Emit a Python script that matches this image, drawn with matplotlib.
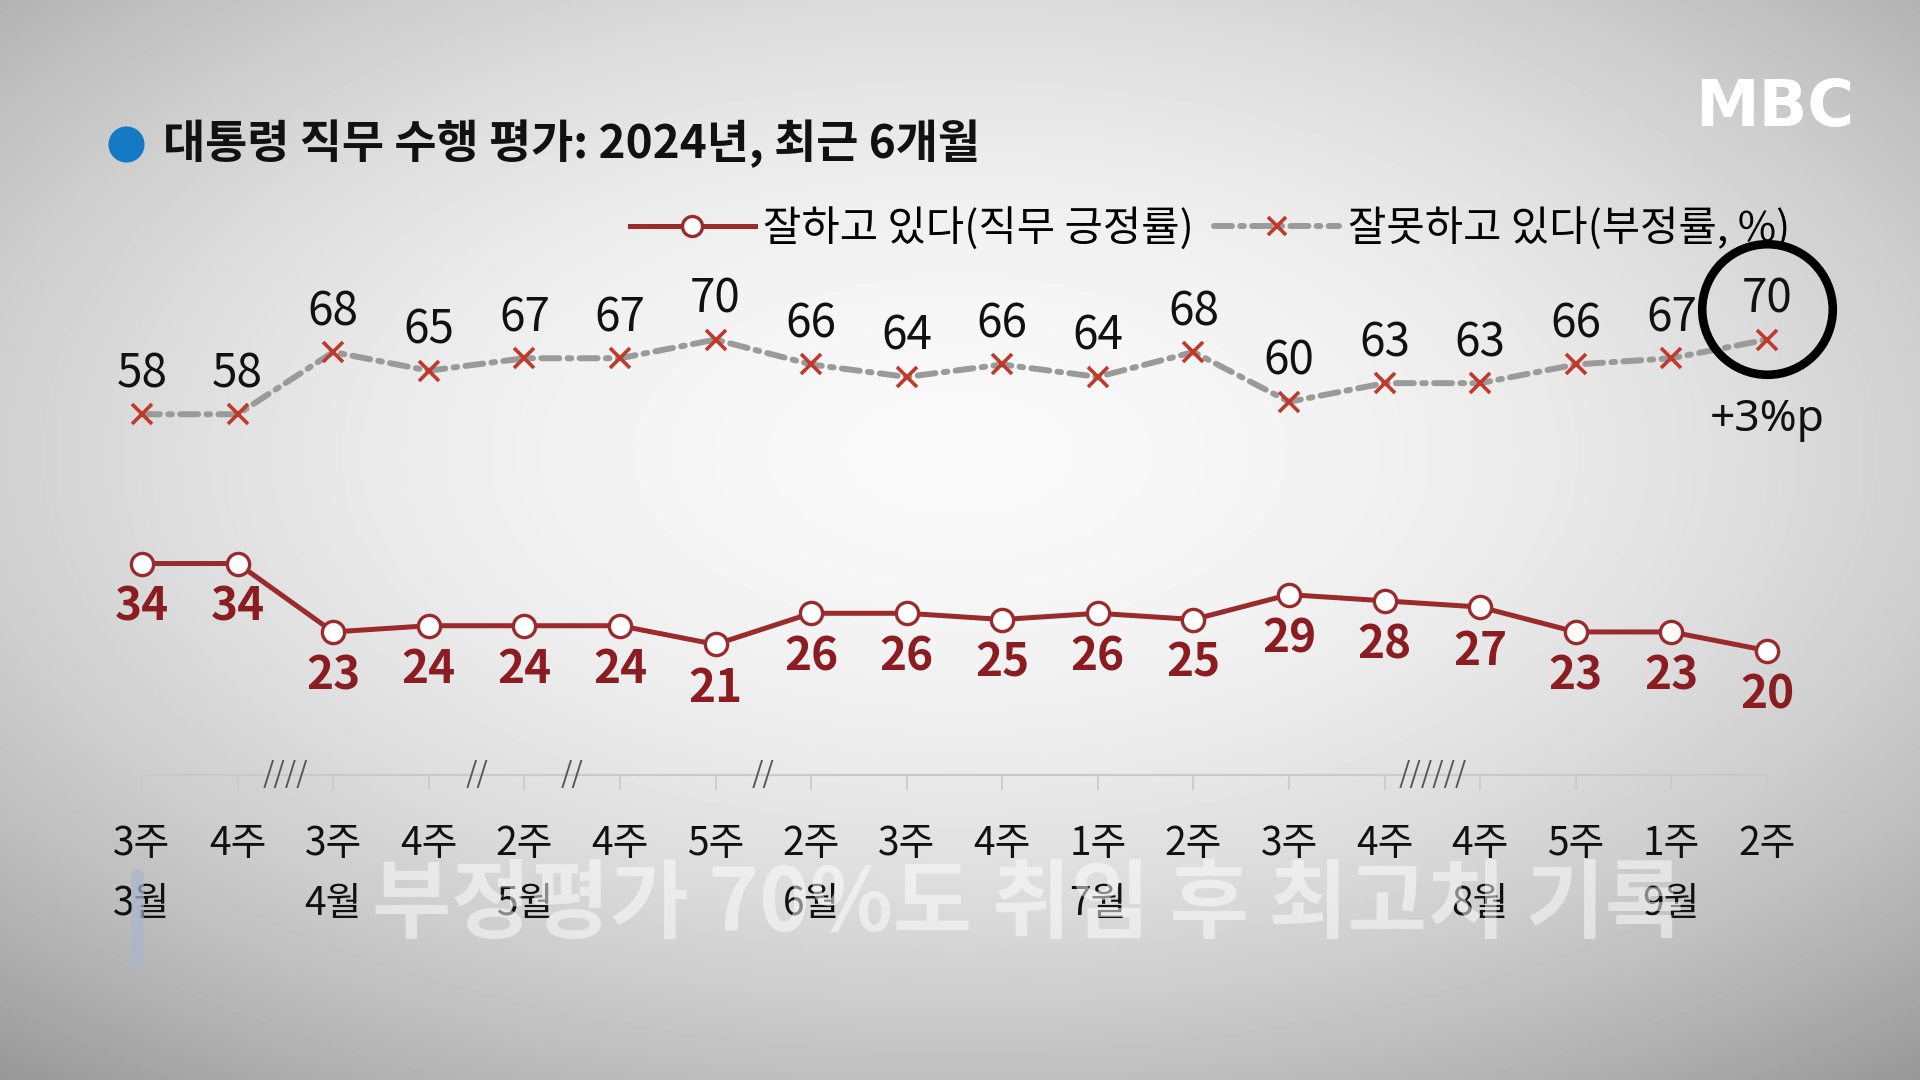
import numpy as np
import matplotlib
matplotlib.use("Agg")
import matplotlib.pyplot as plt
from matplotlib import font_manager
from matplotlib.lines import Line2D

# data
weeks = ["3주", "4주", "3주", "4주", "2주", "4주", "5주", "2주", "3주",
         "4주", "1주", "2주", "3주", "4주", "4주", "5주", "1주", "2주"]
month_idx = [0, 2, 4, 7, 10, 14, 16]
months = ["3월", "4월", "5월", "6월", "7월", "8월", "9월"]
good = [34, 34, 23, 24, 24, 24, 21, 26, 26, 25, 26, 25, 29, 28, 27, 23, 23, 20]
bad = [58, 58, 68, 65, 67, 67, 70, 66, 64, 66, 64, 68, 60, 63, 63, 66, 67, 70]
# gaps in the weekly series (between point i and i+1) and number of slashes
breaks = [(1, 4), (3, 2), (4, 2), (6, 2), (13, 6)]

title = "대통령 직무 수행 평가: 2024년, 최근 6개월"
good_name = "잘하고 있다(직무 긍정률)"
bad_name = "잘못하고 있다(부정률, %)"
caption = "부정평가 70%도 취임 후 최고치 기록"

plt.rcParams['font.family'] = ['Noto Sans CJK KR', 'DejaVu Sans']
installed = {f.name for f in font_manager.fontManager.ttflist}
if 'Liberation Sans Narrow' in installed:
    narrow = ['Liberation Sans Narrow', 'Noto Sans CJK KR']
else:
    narrow = ['Noto Sans CJK KR', 'DejaVu Sans']

RED = '#9b2a2d'
XRED = '#c0392b'
GRAY = '#9a9a9a'

fig = plt.figure(figsize=(19.2, 10.8), dpi=100)

# vignette background
bg = fig.add_axes([0, 0, 1, 1], zorder=-10)
yy, xx = np.mgrid[0:1:300j, 0:1:500j]
r2 = ((xx - 0.5) / 0.62) ** 2 + ((yy - 0.42) / 0.6) ** 2
shade = np.clip(0.975 - 0.24 * r2, 0, 1)
bg.imshow(shade, cmap='gray', vmin=0, vmax=1, extent=[0, 1, 1, 0], aspect='auto')
bg.set_xlim(0, 1)
bg.set_ylim(1, 0)
bg.axis('off')

ax = fig.add_axes([142 / 1920, 1 - 775 / 1080, 1625 / 1920, 622 / 1080])
ax.patch.set_alpha(0)
x = np.arange(len(weeks))

ax.plot(x, bad, color=GRAY, lw=4.3, dashes=(3.0, 1.4, 0.6, 1.4),
        dash_capstyle='round', marker='x', ms=15, mew=2.6, mec=XRED,
        label=bad_name, zorder=3, clip_on=False)
ax.plot(x, good, color=RED, lw=3.6, marker='o', ms=16, mfc='white',
        mec=RED, mew=2.4, label=good_name, zorder=3, clip_on=False)

for i in x:
    ax.annotate(str(bad[i]), (i, bad[i]), xytext=(0, 29), textcoords='offset points',
                ha='center', va='center', fontsize=33, color='#111111', family=narrow)
    ax.annotate(str(good[i]), (i, good[i]), xytext=(0, -32), textcoords='offset points',
                ha='center', va='center', fontsize=33, color='#8a1c22',
                fontweight='bold', family=narrow)

# highlight of the latest value
ax.plot([x[-1]], [bad[-1] + 5], marker='o', ms=94, mfc='none', mec='black',
        mew=6.2, zorder=5, clip_on=False)
ax.annotate("+%d%%p" % (bad[-1] - bad[-2]), (x[-1], bad[-1]), xytext=(0, -58),
            textcoords='offset points', ha='center', va='center', fontsize=32,
            family=['Noto Sans', 'DejaVu Sans'], color='#111111')

ax.set_xlim(0, len(weeks) - 1)
ax.set_ylim(0, 100)
for s in ['top', 'right', 'left']:
    ax.spines[s].set_visible(False)
ax.spines['bottom'].set_color('#c9c9c9')
ax.spines['bottom'].set_linewidth(1.5)
ax.set_yticks([])
ax.set_xticks(x)
ax.set_xticklabels(weeks, fontsize=28, family=narrow, color='#111111')
ax.tick_params(axis='x', length=11, width=1.2, color='#c9c9c9', pad=24)

for i, n in breaks:
    ax.text(i + 0.5, 0, "/" * n, ha='center', va='center', fontsize=21,
            color='#555555', family=narrow)

for i, m in zip(month_idx, months):
    ax.text(i, -0.207, m, transform=ax.get_xaxis_transform(), ha='center',
            va='center', fontsize=28, family=narrow, color='#111111', zorder=4)

# legend
ax.legend(handles=ax.get_lines()[1::-1], loc='center right',
          bbox_to_anchor=(1790 / 1920, 1 - 228 / 1080), bbox_transform=fig.transFigure,
          ncol=2, frameon=False, fontsize=30, handlelength=3.0, handletextpad=0.2,
          columnspacing=0.5, borderpad=0, borderaxespad=0, markerscale=0.9)

# title with blue bullet
fig.add_artist(Line2D([126 / 1920], [1 - 144 / 1080], marker='o', ms=25,
                      color='#1479c4', transform=fig.transFigure))
fig.text(163 / 1920, 1 - 144 / 1080, title, fontsize=33, fontweight='bold',
         ha='left', va='center', color='#111111')

# channel logo
fig.text(1775 / 1920, 1 - 108 / 1080, "MBC", fontsize=46, fontweight='heavy',
         family=['DejaVu Sans'], color='white', ha='center', va='center')

# broadcast caption overlay
fig.text(1028 / 1920, 1 - 906 / 1080, caption, fontsize=62, fontweight='bold',
         color='white', alpha=0.5, ha='center', va='center', zorder=1)
fig.add_artist(Line2D([137 / 1920, 137 / 1920], [1 - 875 / 1080, 1 - 962 / 1080],
                      lw=9, color='#aab6cc', alpha=0.7, solid_capstyle='round',
                      transform=fig.transFigure))

plt.savefig("out.png", dpi=100)
